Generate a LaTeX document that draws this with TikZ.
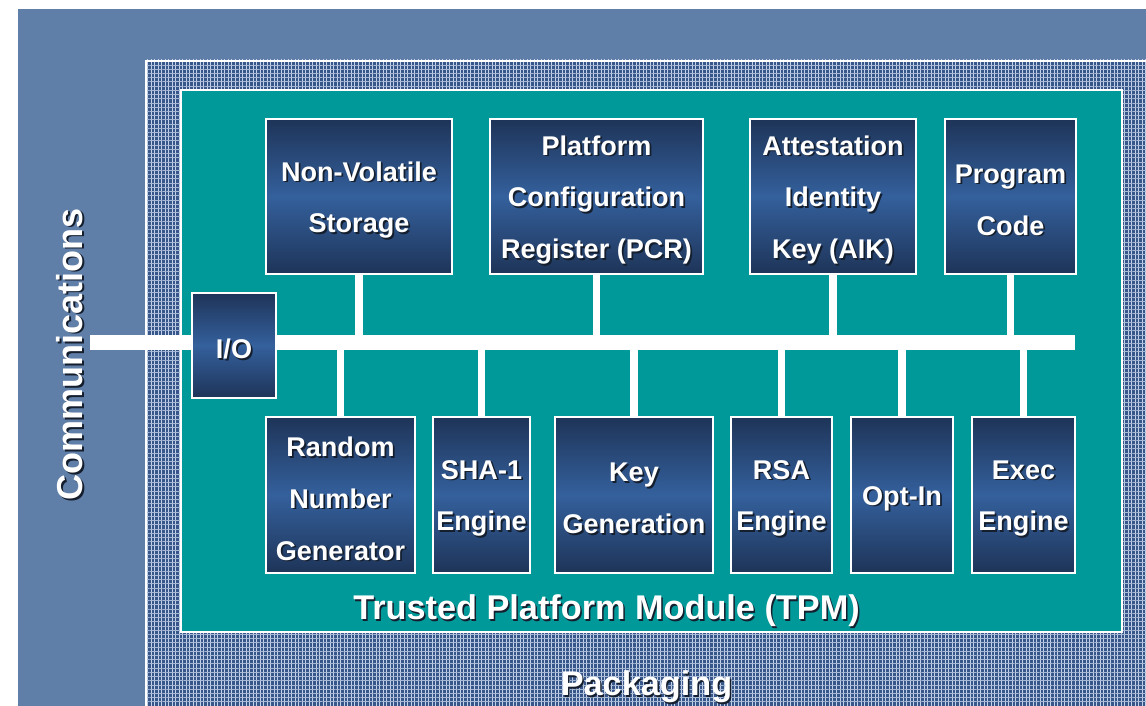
\documentclass[tikz,border=0pt]{standalone}
\usepackage{fontspec}
\setmainfont{Liberation Sans}
\usepackage{tikz}
\usetikzlibrary{patterns.meta}
\definecolor{slide}{RGB}{96,127,168}
\definecolor{packblue}{RGB}{55,86,138}
\definecolor{packline}{RGB}{195,210,232}
\definecolor{tpmteal}{RGB}{0,153,153}
\definecolor{boxdark}{RGB}{30,52,88}
\definecolor{boxmid}{RGB}{52,96,156}
\definecolor{txtshade}{RGB}{20,30,45}
\tikzset{
  unitbox/.style={draw=white,line width=1.2pt,top color=boxdark,bottom color=boxdark,middle color=boxmid,inner sep=0pt},
  boxtext/.style={align=center,font=\fontsize{15.4}{29.5}\selectfont\bfseries,inner sep=0pt,yshift=-0.07cm},
  bigtext/.style={font=\fontsize{19.5}{22}\selectfont\bfseries,inner sep=0pt},
  link/.style={white,line width=4pt},
}

\begin{document}
\begin{tikzpicture}
  \useasboundingbox (0,0) rectangle (22.92,14.12);
  \fill[white] (0,0) rectangle (22.92,14.12);
  % slide background
  \fill[slide] (0.36,0) rectangle (22.92,13.94);
  % packaging frame
  \fill[packblue] (2.90,0) rectangle (22.92,12.92);
  \fill[pattern={Lines[angle=90,distance=2pt,line width=0.55pt]},pattern color=packline]
    (2.90,0) rectangle (22.92,12.92);
  \fill[pattern={Lines[angle=0,distance=2.4pt,line width=0.4pt]},pattern color=packline!80!packblue]
    (2.90,0) rectangle (22.92,12.92);
  \draw[white,line width=1pt] (2.92,0) -- (2.92,12.90) -- (22.92,12.90);
  % module area
  \fill[tpmteal,draw=white,line width=1pt] (3.62,1.48) rectangle (22.44,12.32);

  % shared bus
  \coordinate (busL) at (1.80,7.27);
  \coordinate (busR) at (21.50,7.27);
  \draw[white,line width=0.30cm] (busL) -- (busR);

  % I/O port on the bus
  \node[unitbox,minimum width=1.68cm,minimum height=2.10cm] (io) at (4.68,7.21) {};
  \node[boxtext,txtshade] (io-s) at ([shift={(0.035,-0.035)}]io.center) {I/O};
  \node[boxtext,white] (io-t) at (io.center) {I/O};

  % units above the bus
  \foreach \n/\x/\w/\t in {nvs/7.18/3.72/{Non-Volatile\\Storage},
                           pcr/11.93/4.26/{Platform\\Configuration\\Register (PCR)},
                           aik/16.66/3.32/{Attestation\\Identity\\Key (AIK)},
                           code/20.21/2.62/{Program\\Code}}{
    \node[unitbox,minimum width=\w cm,minimum height=3.10cm] (\n) at (\x,10.19) {};
    \draw[link] (\n.south) -- (\n.south |- busL);
    \node[boxtext,txtshade] (\n-s) at ([shift={(0.035,-0.035)}]\n.center) {\t};
    \node[boxtext,white] (\n-t) at (\n.center) {\t};
  }

  % units below the bus
  \foreach \n/\x/\w/\t in {rng/6.81/2.98/{Random\\Number\\Generator},
                           sha/9.63/1.94/{SHA-1\\Engine},
                           keygen/12.68/3.16/{Key\\Generation},
                           rsa/15.63/2.02/{RSA\\Engine},
                           optin/18.04/2.04/{Opt-In},
                           exec/20.47/2.06/{Exec\\Engine}}{
    \node[unitbox,minimum width=\w cm,minimum height=3.12cm] (\n) at (\x,4.22) {};
    \draw[link] (\n.north) -- (\n.north |- busL);
    \node[boxtext,txtshade] (\n-s) at ([shift={(0.035,-0.035)}]\n.center) {\t};
    \node[boxtext,white] (\n-t) at (\n.center) {\t};
  }

  % captions
  \node[bigtext,txtshade] (tpm-s) at (12.16,1.87) {Trusted Platform Module (TPM)};
  \node[bigtext,white] (tpm) at (12.13,1.90) {Trusted Platform Module (TPM)};
  \node[bigtext,txtshade] (pack-s) at (12.96,0.35) {Packaging};
  \node[bigtext,white] (pack) at (12.93,0.38) {Packaging};
  \node[bigtext,txtshade,rotate=90,font=\fontsize{20.5}{22}\selectfont\bfseries] (comm-s) at (1.43,7.00) {Communications};
  \node[bigtext,white,rotate=90,font=\fontsize{20.5}{22}\selectfont\bfseries] (comm) at (1.40,7.03) {Communications};
\end{tikzpicture}
\end{document}
